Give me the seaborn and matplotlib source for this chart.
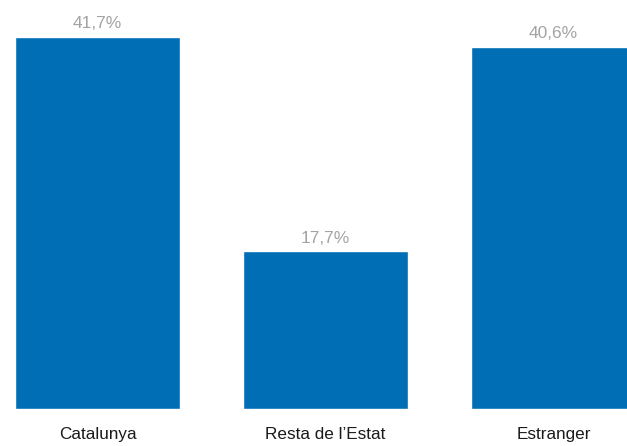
import matplotlib
matplotlib.use("Agg")
import matplotlib.pyplot as plt
import seaborn as sns

# data
categories = ["Catalunya", "Resta de l\u2019Estat", "Estranger"]
shares = [41.7, 17.7, 40.6]
value_labels = ["41,7%", "17,7%", "40,6%"]

sns.set_style("white")
plt.rcParams["font.family"] = ["Liberation Sans", "DejaVu Sans"]

fig = plt.figure(figsize=(6.27, 4.46), dpi=100)
# axes run off the right edge, like the original crop
ax = fig.add_axes([0, 37 / 446, 1, 409 / 446])

sns.barplot(x=categories, y=shares, color="#006EB5", saturation=1,
            width=0.724, ax=ax)

ax.bar_label(ax.containers[0], labels=value_labels, padding=4,
             color="#A3A3A3", fontsize=12.5)

ax.set_xlim(-0.4276, 2.3224)
ax.set_ylim(0, 45.85)
ax.set_yticks([])
ax.set_xlabel("")
ax.set_ylabel("")
ax.tick_params(axis="x", length=0, pad=13, labelsize=12.3, labelcolor="#1a1a1a")
sns.despine(ax=ax, left=True, bottom=True)

fig.savefig("out.png", dpi=100)
